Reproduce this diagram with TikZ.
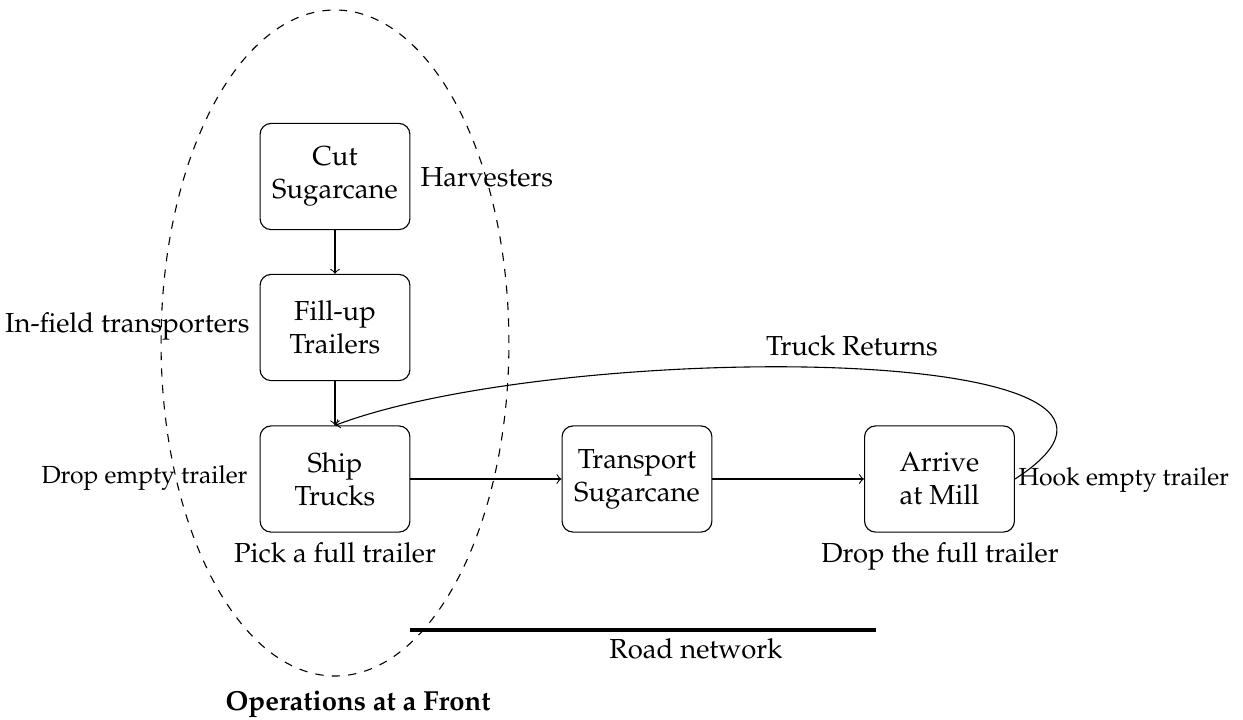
\documentclass[tikz,border=0pt]{standalone}
\usepackage[T1]{fontenc}
\usepackage{mathpazo}
\usetikzlibrary{shapes.geometric}
\begin{document}
\begin{tikzpicture}[x=0.36364pt,y=-0.36364pt,
  stepbox/.style={draw, rounded corners=4pt, minimum width=54.5pt, minimum height=38.6pt, align=center, inner sep=2pt},
  lbl/.style={inner sep=0pt},
  flow/.style={->}]
\useasboundingbox (0,0) rectangle (1243,719);
% front ellipse
\node[draw, dashed, ellipse, minimum width=126.5pt, minimum height=242.2pt, inner sep=0pt] (front) at (335,343) {};
% steps
\node[stepbox] (cut) at (335,176.5) {Cut\\Sugarcane};
\node[stepbox] (fill) at (335,327.5) {Fill-up\\Trailers};
\node[stepbox] (ship) at (335,479) {Ship\\Trucks};
\node[stepbox] (transport) at (637,479) {Transport\\Sugarcane};
\node[stepbox] (arrive) at (939.5,479) {Arrive\\at Mill};
% connectors
\draw[flow] (cut) -- (fill);
\draw[flow] (fill) -- (ship);
\draw[flow] (ship) -- (transport);
\draw[flow] (transport) -- (arrive);
\draw[flow] (arrive.east) .. controls (1230,340) and (560,340) .. (ship.north);
% labels
\node[lbl, anchor=base west] (harv) at (420,186) {Harvesters};
\node[lbl, anchor=base east] (infield) at (250,332) {In-field transporters};
\node[lbl, anchor=base east, font=\small] (dropempty) at (248,483) {Drop empty trailer};
\node[lbl, anchor=base] (pick) at (335,562) {Pick a full trailer};
\node[lbl, anchor=base west, font=\small] (hook) at (1018,485) {Hook empty trailer};
\node[lbl, anchor=base] (dropfull) at (940,562) {Drop the full trailer};
\node[lbl, anchor=base] (returns) at (852,355) {Truck Returns};
% road
\coordinate (r1) at (410,630);
\coordinate (r2) at (876,630);
\draw[ultra thick] (r1) -- (r2);
\node[lbl, anchor=base] (road) at (696,658) {Road network};
\node[lbl, anchor=base west, font=\bfseries] (ops) at (225,710) {Operations at a Front};
\end{tikzpicture}
\end{document}
